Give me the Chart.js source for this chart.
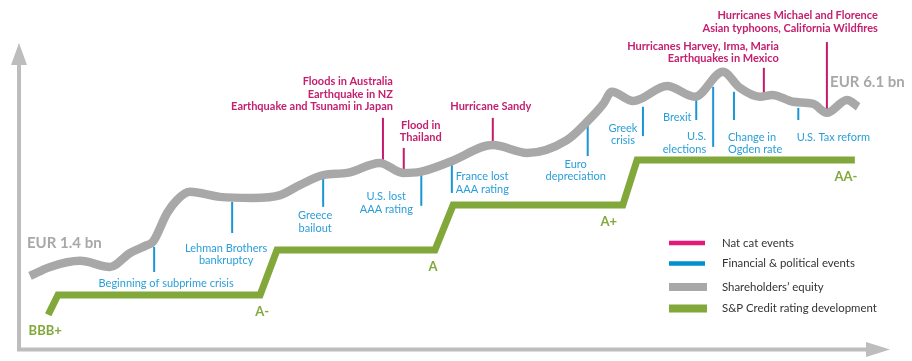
<!DOCTYPE html>
<html>
<head>
<meta charset="utf-8">
<script src="https://cdn.jsdelivr.net/npm/chart.js@4.4.1/dist/chart.umd.min.js"></script>
<style>
  body { margin: 0; background: #fff; }
  #wrap { width: 912px; height: 361px; position: relative; }
</style>
</head>
<body>
<div id="wrap"><canvas id="chart"></canvas></div>
<script>
// shareholders' equity, EUR bn, on a schematic timeline (years)
var equityYears = [2006.00, 2006.31, 2006.77, 2007.23, 2007.54, 2007.80, 2007.89, 2008.11, 2008.26, 2008.46,
  2008.92, 2009.43, 2009.85, 2010.15, 2010.51, 2010.88, 2011.38, 2011.74, 2012.00, 2012.46, 2013.12,
  2013.65, 2014.26, 2014.57, 2014.82, 2014.95, 2015.28, 2015.80, 2016.23, 2016.66, 2016.92, 2017.23,
  2017.42, 2017.74, 2018.05, 2018.26, 2018.57, 2018.74];
var equityValues = [1.29, 1.54, 1.71, 1.54, 1.93, 2.15, 2.24, 3.05, 3.41, 3.64,
  3.50, 3.47, 3.55, 3.83, 4.11, 4.17, 4.45, 4.17, 4.20, 4.48, 4.95,
  4.73, 5.09, 5.60, 6.10, 6.44, 6.18, 6.60, 6.30, 7.00, 6.55, 6.30,
  6.35, 6.16, 6.10, 5.85, 6.21, 6.02];
var equityStart = 'EUR 1.4 bn';
var equityEnd = 'EUR 6.1 bn';

// S&P credit rating, in notches (1 = A-)
var ratingYears = [2006.28, 2006.43, 2009.54, 2009.80, 2012.23, 2012.51, 2015.12, 2015.34, 2018.69];
var ratingValues = [0.56, 1, 1, 2, 2, 3, 3, 4, 4];
var ratingLabels = ['BBB+', 'A-', 'A', 'A+', 'AA-'];

// nat cat events
var natcatNames = [
  ['Floods in Australia', 'Earthquake in NZ', 'Earthquake and Tsunami in Japan'],
  ['Flood in', 'Thailand'],
  ['Hurricane Sandy'],
  ['Hurricanes Harvey, Irma, Maria', 'Earthquakes in Mexico'],
  ['Hurricanes Michael and Florence', 'Asian typhoons, California Wildfires']
];
var natcatYears = [2011.43, 2011.75, 2013.12, 2017.29, 2018.26];
var natcatTop = [5.71, 4.87, 5.71, 7.11, 7.83];
var natcatBottom = [4.48, 4.22, 5.01, 6.35, 5.88];

// financial & political events
var finNames = [
  ['Beginning of subprime crisis'],
  ['Lehman Brothers', 'bankruptcy'],
  ['Greece', 'bailout'],
  ['U.S. lost', 'AAA rating'],
  ['France lost', 'AAA rating'],
  ['Euro', 'depreciation'],
  ['Greek', 'crisis'],
  ['Brexit'],
  ['U.S.', 'elections'],
  ['Change in', 'Ogden rate'],
  ['U.S. Tax reform']
];
var finYears = [2007.91, 2009.11, 2010.51, 2012.02, 2012.49, 2014.58, 2015.43, 2016.25, 2016.51, 2016.83, 2017.82];
var finTop = [2.10, 3.36, 4.09, 4.11, 4.45, 5.54, 6.02, 6.30, 6.58, 6.44, 5.99];
var finBottom = [1.40, 2.49, 3.22, 3.25, 3.61, 4.64, 5.20, 5.65, 4.90, 5.65, 5.65];

var legendNames = ['Nat cat events', 'Financial & political events', "Shareholders\u2019 equity", 'S&P Credit rating development'];

// label placement: [align, dx, dy]
var natcatPlace = [['right', 10, -11], ['center', 17, -10], ['center', -2, -11], ['right', 15, -9], ['right', 51, -14]];
var finPlace = [['center', 12, 12], ['center', -6, 15], ['center', -8, 9], ['center', -35, -9], ['left', 4, -16],
  ['center', -12, 8], ['center', -20, -8], ['center', -19, -3], ['right', -7, -10], ['left', -6, 17], ['center', 35, 17]];
var ratingPlace = [[0, -3, 16], [2, 2, 17], [4, -2, 17], [6, -14, 17], [8, -9, 17]];

var MAGENTA = '#c41a6b', BLUE = '#1a96d4', GREY = '#a8a8a8', GREEN = '#82a83c';
var FONT = 'Lato, sans-serif';

function pts(xs, ys) {
  return xs.map(function (x, i) { return {x: x, y: ys[i]}; });
}

var datasets = [];
datasets.push({label: legendNames[2], data: pts(equityYears, equityValues), yAxisID: 'y',
  borderColor: GREY, borderWidth: 8.5, cubicInterpolationMode: 'monotone', pointRadius: 0, order: 1, clip: false});
datasets.push({label: legendNames[3], data: pts(ratingYears, ratingValues), yAxisID: 'yr',
  borderColor: GREEN, borderWidth: 7, tension: 0, borderJoinStyle: 'miter', pointRadius: 0, order: 2, clip: false});
natcatYears.forEach(function (x, i) {
  datasets.push({data: [{x: x, y: natcatBottom[i]}, {x: x, y: natcatTop[i]}], yAxisID: 'y',
    borderColor: MAGENTA, borderWidth: 2, pointRadius: 0, order: 3, clip: false});
});
finYears.forEach(function (x, i) {
  datasets.push({data: [{x: x, y: finBottom[i]}, {x: x, y: finTop[i]}], yAxisID: 'y',
    borderColor: BLUE, borderWidth: 2, pointRadius: 0, order: 3, clip: false});
});

function lines(ctx, list, x, y, align, lh) {
  ctx.textAlign = align;
  list.forEach(function (s, k) { ctx.fillText(s, x, y + k * lh); });
}

var decor = {
  id: 'decor',
  beforeDatasetsDraw: function (chart) {
    var ctx = chart.ctx;
    ctx.save();
    ctx.strokeStyle = '#bdbdbd';
    ctx.fillStyle = '#bdbdbd';
    ctx.lineWidth = 4;
    ctx.beginPath();
    ctx.moveTo(19, 63); ctx.lineTo(19, 349.5); ctx.lineTo(868, 349.5);
    ctx.stroke();
    ctx.beginPath();
    ctx.moveTo(19, 43); ctx.lineTo(11, 65); ctx.lineTo(27, 65); ctx.closePath(); ctx.fill();
    ctx.beginPath();
    ctx.moveTo(890, 349.5); ctx.lineTo(866, 342); ctx.lineTo(866, 357); ctx.closePath(); ctx.fill();
    ctx.restore();
  },
  afterDatasetsDraw: function (chart) {
    var ctx = chart.ctx, sx = chart.scales.x, sy = chart.scales.y, sr = chart.scales.yr;
    ctx.save();
    ctx.textBaseline = 'middle';

    ctx.font = 'bold 11px ' + FONT;
    ctx.fillStyle = '#c4206f';
    natcatNames.forEach(function (names, i) {
      var p = natcatPlace[i];
      var px = sx.getPixelForValue(natcatYears[i]) + p[1];
      var py = sy.getPixelForValue(natcatTop[i]) + p[2] - (names.length - 1) * 12.7;
      lines(ctx, names, px, py, p[0], 12.7);
    });

    ctx.font = '11px ' + FONT;
    ctx.fillStyle = '#2a9ed8';
    finNames.forEach(function (names, i) {
      var p = finPlace[i];
      var px = sx.getPixelForValue(finYears[i]) + p[1];
      var py = sy.getPixelForValue(finBottom[i]) + p[2];
      lines(ctx, names, px, py, p[0], 12.5);
    });

    ctx.font = 'bold 13px ' + FONT;
    ctx.fillStyle = GREEN;
    ratingLabels.forEach(function (name, i) {
      var p = ratingPlace[i];
      ctx.textAlign = 'center';
      ctx.fillText(name, sx.getPixelForValue(ratingYears[p[0]]) + p[1], sr.getPixelForValue(ratingValues[p[0]]) + p[2]);
    });

    ctx.font = 'bold 15px ' + FONT;
    ctx.fillStyle = GREY;
    ctx.textAlign = 'left';
    ctx.fillText(equityStart, sx.getPixelForValue(equityYears[0]) - 3, sy.getPixelForValue(equityValues[0]) - 33);
    var last = equityYears.length - 1;
    ctx.fillText(equityEnd, sx.getPixelForValue(equityYears[last]) - 28, sy.getPixelForValue(equityValues[last]) - 25);

    // legend
    var sw = [['#e4197b', 4.5], ['#0090d0', 4.5], [GREY, 8], [GREEN, 8]];
    var rows = [243, 263.5, 287, 308.5];
    ctx.font = '11.4px ' + FONT;
    legendNames.forEach(function (name, i) {
      ctx.fillStyle = sw[i][0];
      ctx.fillRect(669, rows[i] - sw[i][1] / 2, i < 2 ? 36 : 38, sw[i][1]);
      ctx.fillStyle = '#333';
      ctx.textAlign = 'left';
      ctx.fillText(name, 722, rows[i]);
    });
    ctx.restore();
  }
};

new Chart('chart', {
  type: 'line',
  data: {datasets: datasets},
  options: {
    responsive: true,
    maintainAspectRatio: false,
    animation: false,
    layout: {padding: {left: 30, right: 24, top: 36, bottom: 39}},
    scales: {
      x: {type: 'linear', min: 2006, max: 2019.2, display: false},
      y: {min: 0, max: 8, display: false},
      yr: {min: 0.4, max: 6.756, display: false}
    },
    plugins: {legend: {display: false}, tooltip: {enabled: false}}
  },
  plugins: [decor]
});
</script>
</body>
</html>
